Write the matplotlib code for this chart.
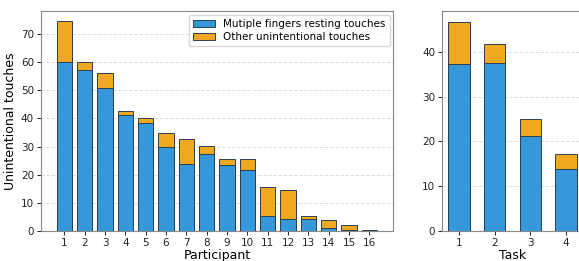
import matplotlib.pyplot as plt
import numpy as np

participants = [str(i) for i in range(1, 17)]
resting = [60, 57.3, 51, 41.3, 38.3, 29.8, 23.8, 27.5, 23.5, 21.8, 5.3, 4.3, 4.3, 1.0, 0.5, 0.0]
other = [14.5, 2.7, 5.3, 1.2, 1.7, 5.0, 9.0, 2.8, 2.2, 3.9, 10.2, 10.2, 1.2, 3.0, 1.5, 0.3]

tasks = ["1", "2", "3", "4"]
task_resting = [37.2, 37.4, 21.3, 13.8]
task_other = [9.4, 4.4, 3.8, 3.45]

blue = "#3498db"
orange = "#f0a820"
edge = "#2c3e50"

plt.rcParams["font.family"] = "DejaVu Sans"
fig = plt.figure(figsize=(5.79, 2.61), dpi=100)
ax1 = fig.add_axes([0.0708, 0.1149, 0.6085, 0.843])
ax2 = fig.add_axes([0.7639, 0.1149, 0.2423, 0.843])

x = np.arange(len(participants))
ax1.bar(x, resting, width=0.75, color=blue, edgecolor=edge, linewidth=0.7,
        label="Mutiple fingers resting touches", zorder=3)
ax1.bar(x, other, width=0.75, bottom=resting, color=orange, edgecolor=edge, linewidth=0.7,
        label="Other unintentional touches", zorder=3)
ax1.set_xticks(x)
ax1.set_xticklabels(participants)
ax1.set_xlim(-1.15, 16.18)
ax1.set_ylim(0, 78.2)
ax1.set_yticks(range(0, 80, 10))
ax1.set_xlabel("Participant", fontsize=9, labelpad=1)
ax1.set_ylabel("Unintentional touches", fontsize=9, labelpad=3)
ax1.legend(loc="upper right", fontsize=7.5, frameon=True, borderaxespad=0.35,
           handlelength=2.1, labelspacing=0.3)

t = np.arange(len(tasks))
ax2.bar(t, task_resting, width=0.6, color=blue, edgecolor=edge, linewidth=0.7, zorder=3)
ax2.bar(t, task_other, width=0.6, bottom=task_resting, color=orange, edgecolor=edge,
        linewidth=0.7, zorder=3)
ax2.set_xticks(t)
ax2.set_xticklabels(tasks)
ax2.set_xlim(-0.47, 3.47)
ax2.set_ylim(0, 49.1)
ax2.set_yticks(range(0, 50, 10))
ax2.set_xlabel("Task", fontsize=9, labelpad=1)

for ax in (ax1, ax2):
    ax.yaxis.grid(True, linestyle="--", color="#dddddd", linewidth=0.7, zorder=0)
    ax.tick_params(labelsize=7.5, colors="#222222", length=3, width=0.7, pad=2)
    for s in ax.spines.values():
        s.set_color("#888888")

fig.savefig("out.png", dpi=100)
